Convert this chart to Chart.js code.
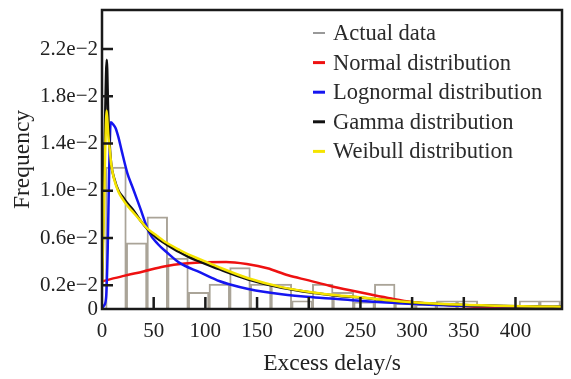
<!DOCTYPE html>
<html><head><meta charset="utf-8">
<script src="https://cdn.jsdelivr.net/npm/chart.js@4.4.0/dist/chart.umd.min.js"></script>
<style>html,body{margin:0;padding:0;background:#fff;}#wrap{width:571px;height:379px;position:relative;}</style>
</head><body><div id="wrap"><canvas id="c" width="571" height="379"></canvas></div>
<script>
// ---- data ----
const histCenters = [13.5, 33.5, 53.5, 73.5, 93.5, 113.5, 133.5, 153.5, 173.5, 193.5, 213.5, 233.5, 253.5, 273.5, 293.5, 313.5, 333.5, 353.5, 373.5, 393.5, 413.5, 433.5];
const histFreq = [0.0120, 0.0056, 0.0078, 0.0043, 0.0014, 0.0021, 0.0035, 0.0021, 0.0021, 0.0007, 0.0021, 0.0014, 0.0006, 0.0021, 0.0005, 0.0004, 0.0007, 0.0007, 0.0003, 0.0003, 0.0007, 0.0007];

const normalX = [0, 20, 40, 60, 80, 100, 120, 140, 160, 180, 200, 220, 240, 260, 280, 300, 320, 340, 360, 380, 400, 420, 445];
const normalY = [0.00234, 0.00278, 0.00318, 0.00360, 0.00385, 0.00396, 0.00397, 0.00380, 0.00345, 0.00285, 0.00242, 0.00197, 0.00158, 0.00122, 0.00088, 0.00059, 0.00042, 0.00029, 0.00020, 0.00015, 0.00012, 0.00010, 0.00008];

const lognX = [0, 2, 4, 5.5, 7, 8.4, 11, 13.2, 16, 19, 24.5, 30, 36.7, 45.5, 54, 62.6, 75, 95, 114, 123, 141.5, 173.8, 206, 225, 252, 285, 336, 390, 445];
const lognY = [0, 0.0003, 0.001, 0.005, 0.012, 0.0158, 0.0156, 0.0153, 0.0145, 0.0134, 0.0115, 0.0102, 0.0086, 0.0065, 0.0055, 0.0048, 0.0039, 0.0031, 0.00235, 0.0021, 0.0017, 0.00125, 0.00098, 0.00087, 0.00067, 0.0005, 0.0003, 0.00024, 0.0002];

const gammaX = [0, 1.5, 3, 4.6, 6, 7.5, 9, 12, 16, 20, 24, 30, 37, 44, 53, 62.6, 75, 84, 95, 114, 141.5, 173.8, 206, 225, 252, 285, 300, 336, 380, 420, 445];
const gammaY = [0.002, 0.009, 0.016, 0.0211, 0.0165, 0.0138, 0.0122, 0.0110, 0.0100, 0.0095, 0.0090, 0.0084, 0.0075, 0.00675, 0.0060, 0.00545, 0.0048, 0.0044, 0.0040, 0.00335, 0.0025, 0.0018, 0.00135, 0.00115, 0.00095, 0.00067, 0.00056, 0.00039, 0.00027, 0.00021, 0.00018];

const weibX = [0, 1.5, 3, 4.5, 6, 7.5, 9, 12, 16, 20, 24, 30, 37, 44, 53, 62.6, 75, 84, 95, 114, 141.5, 173.8, 206, 225, 252, 285, 300, 336, 380, 420, 445];
const weibY = [0.002, 0.007, 0.013, 0.0168, 0.0148, 0.0135, 0.0122, 0.0109, 0.0099, 0.0093, 0.0088, 0.0082, 0.0075, 0.0068, 0.0062, 0.0056, 0.0050, 0.0046, 0.0042, 0.0035, 0.0026, 0.00185, 0.00138, 0.00118, 0.00097, 0.00068, 0.00057, 0.0004, 0.00028, 0.00022, 0.0002];

const xTickValues = [0, 50, 100, 150, 200, 250, 300, 350, 400];
const yTickValues = [0, 0.002, 0.006, 0.010, 0.014, 0.018, 0.022];
const yTickLabels = ['0', '0.2e\u22122', '0.6e\u22122', '1.0e\u22122', '1.4e\u22122', '1.8e\u22122', '2.2e\u22122'];
const seriesLabels = ['Actual data', 'Normal distribution', 'Lognormal distribution', 'Gamma distribution', 'Weibull distribution'];

// ---- chart ----
const FONT = 'Liberation Serif';
const toPts = (xs, ys) => xs.map((x, i) => ({x: x, y: ys[i]}));
const lineDs = (label, xs, ys, color, order) => ({
  type: 'line', label: label, data: toPts(xs, ys), borderColor: color, backgroundColor: color,
  borderWidth: 2.5, pointRadius: 0, cubicInterpolationMode: 'monotone', fill: false, order: order
});

const framePlugin = {
  id: 'frame',
  afterDatasetsDraw(chart) {
    const {ctx, chartArea: a, scales} = chart;
    ctx.save();
    ctx.strokeStyle = '#1a1a1a';
    ctx.lineWidth = 2.5;
    ctx.beginPath();
    yTickValues.forEach(v => {
      if (v === 0) return;
      const py = scales.y.getPixelForValue(v);
      ctx.moveTo(a.left, py); ctx.lineTo(a.left + 11, py);
    });
    xTickValues.forEach(v => {
      if (v === 0) return;
      const px = scales.x.getPixelForValue(v);
      ctx.moveTo(px, a.bottom); ctx.lineTo(px, a.bottom - 12);
    });
    ctx.stroke();
    ctx.strokeRect(a.left, a.top, a.right - a.left, a.bottom - a.top);
    ctx.restore();
  }
};

const legendPlugin = {
  id: 'customLegend',
  afterDraw(chart) {
    const {ctx} = chart;
    ctx.save();
    ctx.font = '22.5px "' + FONT + '"';
    ctx.textBaseline = 'middle';
    ctx.textAlign = 'left';
    const x0 = 313, y0 = 33, dy = 29.6;
    chart.data.datasets.forEach((ds, i) => {
      const y = y0 + i * dy;
      ctx.beginPath();
      ctx.strokeStyle = ds.legendColor || ds.borderColor;
      ctx.lineWidth = i === 0 ? 1.2 : 3;
      ctx.moveTo(x0, y); ctx.lineTo(x0 + 12, y);
      ctx.stroke();
      ctx.fillStyle = '#2a2a2a';
      ctx.fillText(ds.label, x0 + 20, y + 1);
    });
    ctx.restore();
  }
};

new Chart(document.getElementById('c'), {
  data: {
    datasets: [
      {
        type: 'bar', label: seriesLabels[0], data: toPts(histCenters, histFreq),
        backgroundColor: 'rgba(0,0,0,0)', borderColor: '#aaa498', borderWidth: 1.3,
        barPercentage: 1, categoryPercentage: 1, order: 5, legendColor: '#555'
      },
      lineDs(seriesLabels[1], normalX, normalY, '#ee1111', 4),
      lineDs(seriesLabels[2], lognX, lognY, '#1515f0', 3),
      lineDs(seriesLabels[3], gammaX, gammaY, '#111111', 2),
      lineDs(seriesLabels[4], weibX, weibY, '#f5e400', 1)
    ]
  },
  options: {
    responsive: false,
    devicePixelRatio: 1,
    animation: false,
    layout: {padding: {left: 0, top: 10, right: 9, bottom: 0}},
    plugins: {legend: {display: false}, tooltip: {enabled: false}},
    scales: {
      x: {
        type: 'linear', min: 0, max: 445, offset: false,
        afterBuildTicks: s => { s.ticks = xTickValues.map(v => ({value: v})); },
        afterFit: s => { s.height = 70; s.paddingLeft = 0; s.paddingRight = 0; },
        grid: {display: false, drawTicks: false, offset: false},
        border: {display: false},
        ticks: {font: {family: FONT, size: 21}, color: '#222', padding: 10, maxRotation: 0, autoSkip: false},
        title: {display: true, text: 'Excess delay/s', font: {family: FONT, size: 23.5}, color: '#222', padding: {top: 0, bottom: 1}}
      },
      y: {
        type: 'linear', min: 0, max: 0.0253,
        afterBuildTicks: s => { s.ticks = yTickValues.map(v => ({value: v})); },
        afterFit: s => { s.width = 102; s.paddingTop = 0; s.paddingBottom = 0; },
        grid: {display: false, drawTicks: false},
        border: {display: false},
        ticks: {font: {family: FONT, size: 21}, color: '#222', padding: 4, autoSkip: false,
          callback: (v, i) => yTickLabels[i]},
        title: {display: true, text: 'Frequency', font: {family: FONT, size: 23.5}, color: '#222', padding: {top: 9, bottom: 0}}
      }
    }
  },
  plugins: [framePlugin, legendPlugin]
});
</script>
</body></html>
